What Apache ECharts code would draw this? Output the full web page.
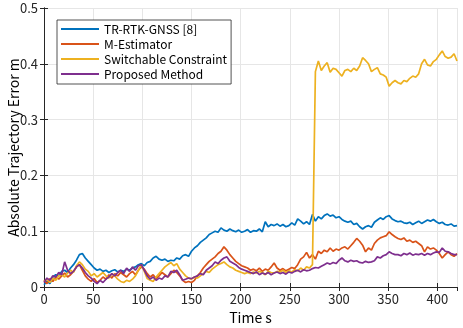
<!DOCTYPE html>
<html>
<head>
<meta charset="utf-8">
<script src="https://cdn.jsdelivr.net/npm/echarts@6.0.0/dist/echarts.min.js"></script>
<style>
  html, body { margin: 0; padding: 0; background: #fff; }
  #chart { width: 463px; height: 328px; }
</style>
</head>
<body>
<div id="chart"></div>
<script>
// sampled every 3 s, 0 .. 420
const timeStep = 3
const seriesNames = ['TR-RTK-GNSS [8]', 'M-Estimator', 'Switchable Constraint', 'Proposed Method']
const colors = ['#0072BD', '#D95319', '#EDB120', '#7E2F8E']

const trRtk = [
  0.004, 0.010, 0.006, 0.018, 0.022, 0.020, 0.028, 0.030, 0.026, 0.034,
  0.040, 0.048, 0.058, 0.060, 0.052, 0.046, 0.040, 0.034, 0.030, 0.032,
  0.028, 0.030, 0.026, 0.029, 0.031, 0.027, 0.030, 0.028, 0.032, 0.030,
  0.034, 0.036, 0.040, 0.042, 0.038, 0.044, 0.046, 0.052, 0.055, 0.050,
  0.048, 0.050, 0.046, 0.048, 0.047, 0.052, 0.050, 0.056, 0.058, 0.055,
  0.064, 0.070, 0.074, 0.080, 0.084, 0.088, 0.094, 0.097, 0.100, 0.098,
  0.106, 0.102, 0.100, 0.104, 0.101, 0.099, 0.102, 0.098, 0.100, 0.103,
  0.098, 0.101, 0.100, 0.104, 0.099, 0.117, 0.108, 0.112, 0.110, 0.113,
  0.109, 0.112, 0.108, 0.110, 0.115, 0.111, 0.122, 0.118, 0.113, 0.117,
  0.112, 0.130, 0.118, 0.126, 0.122, 0.128, 0.131, 0.127, 0.129, 0.124,
  0.126, 0.121, 0.118, 0.116, 0.118, 0.112, 0.114, 0.108, 0.104, 0.108,
  0.110, 0.107, 0.116, 0.120, 0.124, 0.121, 0.126, 0.128, 0.122, 0.119,
  0.117, 0.118, 0.115, 0.114, 0.116, 0.112, 0.115, 0.118, 0.114, 0.117,
  0.120, 0.118, 0.121, 0.117, 0.114, 0.116, 0.112, 0.111, 0.113, 0.109,
  0.110
]

const mEstimator = [
  0.012, 0.006, 0.015, 0.010, 0.018, 0.014, 0.020, 0.025, 0.018, 0.022,
  0.028, 0.036, 0.040, 0.030, 0.020, 0.014, 0.010, 0.015, 0.008, 0.012,
  0.018, 0.014, 0.022, 0.016, 0.024, 0.020, 0.026, 0.022, 0.018, 0.024,
  0.028, 0.022, 0.030, 0.036, 0.032, 0.024, 0.018, 0.022, 0.015, 0.020,
  0.026, 0.022, 0.018, 0.024, 0.030, 0.026, 0.020, 0.012, 0.008, 0.010,
  0.008, 0.012, 0.020, 0.026, 0.034, 0.040, 0.046, 0.050, 0.054, 0.060,
  0.064, 0.072, 0.066, 0.058, 0.052, 0.046, 0.042, 0.038, 0.036, 0.034,
  0.030, 0.032, 0.029, 0.034, 0.028, 0.032, 0.030, 0.036, 0.043, 0.034,
  0.030, 0.033, 0.029, 0.032, 0.035, 0.033, 0.040, 0.050, 0.054, 0.062,
  0.052, 0.058, 0.050, 0.064, 0.060, 0.066, 0.063, 0.070, 0.064, 0.068,
  0.066, 0.070, 0.072, 0.068, 0.074, 0.080, 0.087, 0.082, 0.075, 0.063,
  0.070, 0.066, 0.078, 0.084, 0.088, 0.090, 0.092, 0.099, 0.094, 0.090,
  0.087, 0.085, 0.088, 0.082, 0.084, 0.080, 0.082, 0.078, 0.074, 0.063,
  0.072, 0.068, 0.070, 0.066, 0.060, 0.052, 0.058, 0.063, 0.058, 0.055,
  0.060
]

const switchable = [
  0.010, 0.014, 0.008, 0.016, 0.012, 0.020, 0.022, 0.018, 0.025, 0.030,
  0.026, 0.038, 0.045, 0.040, 0.032, 0.028, 0.020, 0.024, 0.018, 0.022,
  0.026, 0.020, 0.016, 0.024, 0.020, 0.014, 0.010, 0.008, 0.012, 0.010,
  0.014, 0.020, 0.030, 0.040, 0.028, 0.015, 0.012, 0.010, 0.018, 0.024,
  0.030, 0.036, 0.040, 0.044, 0.038, 0.042, 0.032, 0.026, 0.020, 0.016,
  0.014, 0.018, 0.016, 0.020, 0.024, 0.028, 0.026, 0.032, 0.036, 0.040,
  0.042, 0.045, 0.040, 0.036, 0.034, 0.030, 0.028, 0.026, 0.024, 0.026,
  0.024, 0.027, 0.025, 0.028, 0.026, 0.022, 0.028, 0.026, 0.025, 0.028,
  0.027, 0.030, 0.026, 0.029, 0.027, 0.031, 0.029, 0.034, 0.030, 0.036,
  0.034, 0.040, 0.386, 0.405, 0.388, 0.396, 0.402, 0.385, 0.392, 0.390,
  0.384, 0.378, 0.388, 0.390, 0.386, 0.392, 0.388, 0.396, 0.411, 0.406,
  0.400, 0.386, 0.390, 0.393, 0.382, 0.380, 0.376, 0.360, 0.366, 0.370,
  0.366, 0.364, 0.370, 0.368, 0.374, 0.378, 0.376, 0.382, 0.400, 0.408,
  0.398, 0.396, 0.404, 0.408, 0.416, 0.423, 0.413, 0.410, 0.412, 0.418,
  0.405
]

const proposed = [
  0.008, 0.016, 0.012, 0.020, 0.018, 0.026, 0.022, 0.045, 0.030, 0.024,
  0.028, 0.036, 0.040, 0.034, 0.026, 0.020, 0.016, 0.010, 0.006, 0.012,
  0.008, 0.014, 0.018, 0.024, 0.020, 0.026, 0.030, 0.024, 0.034, 0.028,
  0.036, 0.030, 0.038, 0.040, 0.030, 0.020, 0.014, 0.018, 0.012, 0.016,
  0.014, 0.020, 0.018, 0.028, 0.026, 0.030, 0.022, 0.012, 0.014, 0.016,
  0.015, 0.018, 0.020, 0.024, 0.022, 0.030, 0.034, 0.038, 0.045, 0.042,
  0.048, 0.052, 0.054, 0.046, 0.043, 0.040, 0.035, 0.032, 0.030, 0.028,
  0.026, 0.024, 0.027, 0.022, 0.025, 0.023, 0.026, 0.022, 0.025, 0.027,
  0.024, 0.026, 0.023, 0.027, 0.025, 0.028, 0.030, 0.027, 0.031, 0.029,
  0.030, 0.033, 0.035, 0.034, 0.037, 0.040, 0.043, 0.041, 0.044, 0.042,
  0.048, 0.052, 0.047, 0.045, 0.048, 0.046, 0.047, 0.044, 0.043, 0.046,
  0.044, 0.045, 0.047, 0.054, 0.052, 0.056, 0.058, 0.063, 0.060, 0.058,
  0.058, 0.056, 0.060, 0.058, 0.061, 0.057, 0.059, 0.058, 0.060, 0.057,
  0.060, 0.058, 0.061, 0.063, 0.062, 0.070, 0.064, 0.063, 0.060, 0.058,
  0.058
]

const allValues = [trRtk, mEstimator, switchable, proposed]

const fontFamily = '"Noto Sans CJK JP", "Noto Sans", sans-serif'
const axisColor = '#262626'

const chart = echarts.init(document.getElementById('chart'))

const series = allValues.map((vals, i) => ({
  name: seriesNames[i],
  type: 'line',
  showSymbol: false,
  symbol: 'none',
  lineStyle: { width: 1.7, color: colors[i] },
  itemStyle: { color: colors[i] },
  data: vals.map((v, k) => [k * timeStep, v]),
  animation: false
}))

const boxAxis = {
  axisLine: { show: true, lineStyle: { color: axisColor, width: 1 } },
  axisTick: { show: true, inside: true, length: 4, lineStyle: { color: axisColor } },
  axisLabel: { show: false },
  splitLine: { show: false }
}

chart.setOption({
  animation: false,
  textStyle: { fontFamily },
  grid: { left: 44, right: 6, top: 8, bottom: 41, containLabel: false, outerBoundsMode: 'none' },
  legend: {
    orient: 'vertical',
    left: 57,
    top: 20,
    padding: [2, 4, 3, 4],
    itemGap: 1,
    itemWidth: 38,
    itemHeight: 2,
    icon: 'rect',
    backgroundColor: '#fff',
    borderColor: axisColor,
    borderWidth: 0.8,
    textStyle: { fontSize: 12, color: '#000', lineHeight: 14, fontFamily },
    data: seriesNames
  },
  xAxis: [{
    type: 'value',
    min: 0,
    max: 420,
    interval: 50,
    name: 'Time s',
    nameLocation: 'middle',
    nameGap: 24,
    nameMoveOverlap: false,
    nameTextStyle: { fontSize: 14, color: '#000', fontFamily },
    axisLine: { show: true, onZero: false, lineStyle: { color: axisColor } },
    axisTick: { show: true, inside: true, length: 4, lineStyle: { color: axisColor } },
    axisLabel: { fontSize: 13, color: axisColor, margin: 6, fontFamily },
    splitLine: { show: true, lineStyle: { color: '#e6e6e6', width: 1 } }
  }, {
    type: 'value',
    position: 'top',
    min: 0,
    max: 420,
    interval: 50,
    ...boxAxis
  }],
  yAxis: [{
    type: 'value',
    min: 0,
    max: 0.5,
    interval: 0.1,
    name: 'Absolute Trajectory Error m',
    nameLocation: 'middle',
    nameGap: 23,
    nameMoveOverlap: false,
    nameTextStyle: { fontSize: 14, color: '#000', fontFamily },
    axisLine: { show: true, onZero: false, lineStyle: { color: axisColor } },
    axisTick: { show: true, inside: true, length: 4, lineStyle: { color: axisColor } },
    axisLabel: { fontSize: 13, color: axisColor, margin: 6, fontFamily },
    splitLine: { show: true, lineStyle: { color: '#e6e6e6', width: 1 } }
  }, {
    type: 'value',
    position: 'right',
    min: 0,
    max: 0.5,
    interval: 0.1,
    ...boxAxis
  }],
  series
})
</script>
</body>
</html>
